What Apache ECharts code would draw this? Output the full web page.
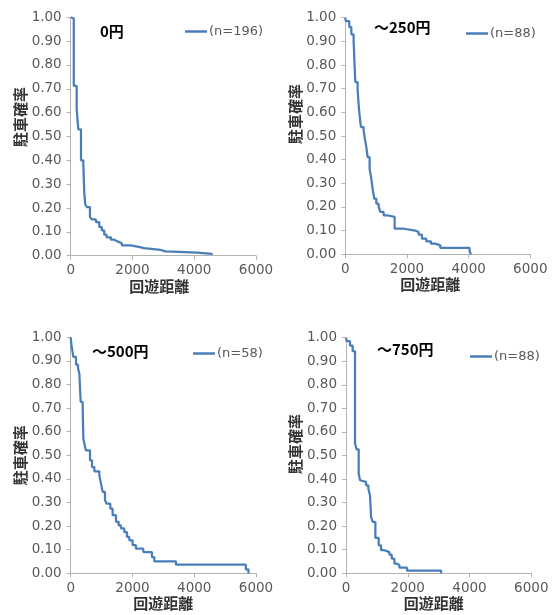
<!DOCTYPE html>
<html>
<head>
<meta charset="utf-8">
<script src="https://cdn.jsdelivr.net/npm/echarts@6/dist/echarts.min.js"></script>
<style>
html,body{margin:0;padding:0;background:#fff;}
#main{width:558px;height:615px;}
</style>
</head>
<body>
<div id="main"></div>
<script>
// 料金区分ごとの回遊距離と駐車確率
var panelTitles = ['0円', '～250円', '～500円', '～750円'];
var seriesNames = ['(n=196)', '(n=88)', '(n=58)', '(n=88) '];

var dist0 = [0, 25, 100, 194, 247, 333, 409, 441, 473, 527, 624, 688, 817, 925, 1010, 1086, 1161, 1301, 1409, 1516, 1656, 1946, 2161, 2376, 2914, 3075, 4096, 4570];
var prob0 = [1.0, 0.995, 0.712, 0.614, 0.53, 0.40, 0.38, 0.26, 0.214, 0.204, 0.162, 0.152, 0.141, 0.12, 0.106, 0.088, 0.077, 0.067, 0.060, 0.052, 0.043, 0.038, 0.032, 0.024, 0.018, 0.013, 0.008, 0.004];

var dist1 = [0, 20, 130, 195, 270, 324, 400, 443, 486, 508, 594, 627, 681, 724, 789, 843, 886, 940, 1005, 1081, 1135, 1243, 1351, 1600, 1892, 2270, 2378, 2486, 2627, 2778, 2919, 3081, 4032, 4080];
var prob1 = [1.0, 0.985, 0.96, 0.93, 0.90, 0.728, 0.693, 0.615, 0.56, 0.538, 0.524, 0.496, 0.454, 0.411, 0.362, 0.32, 0.277, 0.235, 0.214, 0.20, 0.179, 0.165, 0.158, 0.108, 0.10, 0.094, 0.083, 0.066, 0.055, 0.045, 0.038, 0.027, 0.011, 0.0];

var dist2 = [0, 22, 86, 172, 237, 280, 323, 388, 410, 453, 496, 625, 690, 765, 927, 981, 1035, 1110, 1164, 1283, 1358, 1466, 1552, 1628, 1736, 1822, 1897, 2005, 2113, 2350, 2630, 2706, 3406, 5670, 5757];
var prob2 = [1.0, 0.969, 0.917, 0.884, 0.87, 0.846, 0.726, 0.705, 0.57, 0.542, 0.521, 0.479, 0.45, 0.432, 0.415, 0.38, 0.345, 0.31, 0.295, 0.274, 0.246, 0.218, 0.203, 0.19, 0.175, 0.154, 0.14, 0.119, 0.105, 0.09, 0.069, 0.051, 0.037, 0.017, 0.0];

var dist3 = [0, 20, 130, 216, 292, 346, 411, 454, 508, 649, 724, 778, 811, 865, 951, 1059, 1135, 1243, 1405, 1481, 1567, 1654, 1730, 1978, 3081];
var prob3 = [1.0, 0.985, 0.966, 0.943, 0.55, 0.526, 0.423, 0.395, 0.388, 0.373, 0.359, 0.33, 0.239, 0.218, 0.15, 0.119, 0.098, 0.09, 0.079, 0.062, 0.041, 0.034, 0.024, 0.011, 0.0];

var distList = [dist0, dist1, dist2, dist3];
var probList = [prob0, prob1, prob2, prob3];

var myChart = echarts.init(document.getElementById('main'));

// パネル配置
var grids = [
    {left: 70.7, top: 17.3, width: 185.3, height: 238.4},
    {left: 345.3, top: 17.7, width: 185, height: 236.6},
    {left: 70.7, top: 337.3, width: 185.3, height: 236},
    {left: 346, top: 337.7, width: 185.3, height: 235.6}
];
var titlePos = [[100, 24], [374, 20], [92, 344], [377, 342]];
var legendPos = [[185, 25], [466, 27], [193, 347], [470, 350]];
var yNameShift = [39, 44, 0, 23];
var xNameShift = [-8, -15, 0, -10];

var axisColor = '#b3b3b3';
var labelColor = '#595959';
var lineColor = '#4a7ebb';

var option = {
    backgroundColor: '#fff',
    animation: false,
    title: [],
    legend: [],
    grid: [],
    xAxis: [],
    yAxis: [],
    series: []
};

for (var i = 0; i < 4; i++) {
    var data = [];
    for (var j = 0; j < distList[i].length; j++) {
        data.push([distList[i][j], probList[i][j]]);
    }
    option.grid.push({
        left: grids[i].left, top: grids[i].top,
        width: grids[i].width, height: grids[i].height,
        containLabel: false
    });
    option.title.push({
        text: panelTitles[i],
        left: titlePos[i][0], top: titlePos[i][1],
        padding: 0,
        textStyle: {fontFamily: 'Noto Sans CJK JP', fontSize: 15, fontWeight: 'bold', color: '#000'}
    });
    option.legend.push({
        data: [seriesNames[i]],
        left: legendPos[i][0], top: legendPos[i][1],
        padding: 0,
        icon: 'rect',
        itemWidth: 22, itemHeight: 2.5,
        textStyle: {fontFamily: 'DejaVu Sans', fontSize: 13, color: labelColor, padding: [0, 0, 0, -3]}
    });
    var xs = xNameShift[i];
    option.xAxis.push({
        type: 'value', gridIndex: i,
        min: 0, max: 6000, interval: 2000,
        name: '回遊距離', nameLocation: 'middle', nameGap: 22,
        nameTextStyle: {fontFamily: 'Noto Sans CJK JP', fontSize: 15, fontWeight: 'bold', color: '#333',
            padding: xs < 0 ? [0, -xs, 0, 0] : [0, 0, 0, xs]},
        axisLine: {show: true, lineStyle: {color: axisColor, width: 1}},
        axisTick: {show: true, length: 4, lineStyle: {color: axisColor}},
        axisLabel: {fontFamily: 'DejaVu Sans', fontSize: 13.5, color: labelColor, margin: 8,
            formatter: function (v) { return String(v); }},
        splitLine: {show: false}
    });
    option.yAxis.push({
        type: 'value', gridIndex: i,
        min: 0, max: 1, interval: 0.1,
        name: '駐車確率', nameLocation: 'middle', nameGap: 42,
        nameTextStyle: {fontFamily: 'Noto Sans CJK JP', fontSize: 15, fontWeight: 'bold', color: '#333',
            padding: [0, 0, 0, yNameShift[i]]},
        axisLine: {show: true, lineStyle: {color: axisColor, width: 1}},
        axisTick: {show: true, length: 4, lineStyle: {color: axisColor}},
        axisLabel: {fontFamily: 'DejaVu Sans', fontSize: 13.5, color: labelColor, margin: 9,
            formatter: function (v) { return v.toFixed(2); }},
        splitLine: {show: false}
    });
    option.series.push({
        name: seriesNames[i],
        type: 'line',
        step: 'end',
        xAxisIndex: i, yAxisIndex: i,
        showSymbol: false, symbol: 'none',
        lineStyle: {color: lineColor, width: 2.25},
        itemStyle: {color: lineColor},
        data: data
    });
}

myChart.setOption(option);
</script>
</body>
</html>
